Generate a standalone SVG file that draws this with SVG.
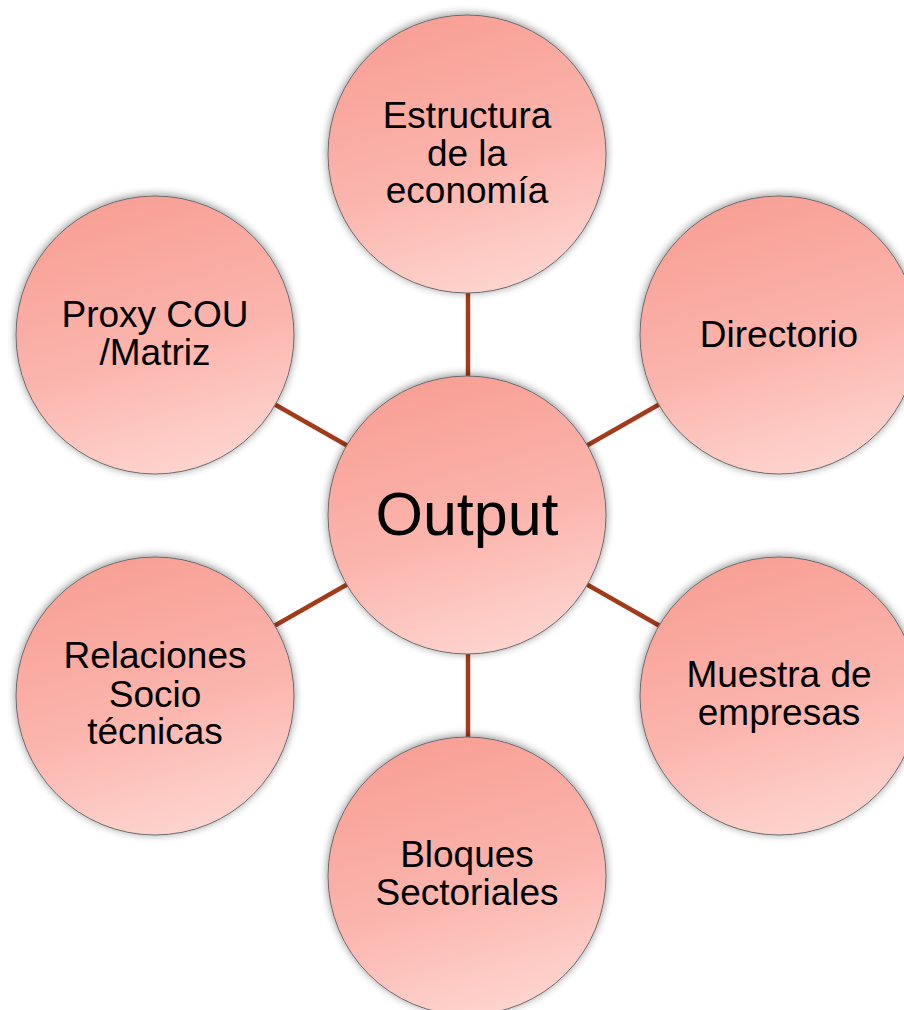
<svg xmlns="http://www.w3.org/2000/svg" width="904" height="1010" viewBox="0 0 904 1010">
  <defs>
    <linearGradient id="fill" x1="0.35" y1="0" x2="0.65" y2="1">
      <stop offset="0" stop-color="#f89f95"/>
      <stop offset="0.55" stop-color="#fbb5ad"/>
      <stop offset="1" stop-color="#fed5d0"/>
    </linearGradient>
    <filter id="shadow" x="-20%" y="-20%" width="140%" height="140%">
      <feGaussianBlur in="SourceAlpha" stdDeviation="4"/>
      <feOffset dx="0" dy="-1" result="b"/>
      <feComponentTransfer><feFuncA type="linear" slope="0.45"/></feComponentTransfer>
      <feMerge><feMergeNode/><feMergeNode in="SourceGraphic"/></feMerge>
    </filter>
  </defs>
  <style>
    .node circle { fill: url(#fill); stroke: #6b6b6b; stroke-width: 1; filter: url(#shadow); }
    .node text { font-family: "Liberation Sans", Arial, sans-serif; font-size: 37px; fill: #000; text-anchor: middle; }
    .conn line { stroke: #a33b1b; stroke-width: 4.5; }
  </style>
  <rect width="904" height="1010" fill="#ffffff"/>
  <g id="connectors" class="conn">
    <line x1="468" y1="293" x2="468" y2="377"/>
    <line x1="468" y1="653" x2="468" y2="737"/>
    <line x1="587" y1="445.5" x2="659" y2="404.5"/>
    <line x1="587" y1="584.5" x2="659" y2="625.5"/>
    <line x1="347" y1="445.5" x2="275" y2="404.5"/>
    <line x1="347" y1="584.5" x2="275" y2="625.5"/>
  </g>
  <g id="node-estructura" class="node">
    <circle cx="467" cy="154" r="139"/>
    <text x="467" y="128">Estructura</text>
    <text x="467" y="166">de la</text>
    <text x="467" y="203">economía</text>
  </g>
  <g id="node-directorio" class="node">
    <circle cx="779" cy="335" r="139"/>
    <text x="779" y="347">Directorio</text>
  </g>
  <g id="node-muestra" class="node">
    <circle cx="779" cy="696" r="139"/>
    <text x="779" y="687">Muestra de</text>
    <text x="779" y="725">empresas</text>
  </g>
  <g id="node-bloques" class="node">
    <circle cx="467" cy="876" r="139"/>
    <text x="467" y="867">Bloques</text>
    <text x="467" y="905">Sectoriales</text>
  </g>
  <g id="node-relaciones" class="node">
    <circle cx="155" cy="696" r="139"/>
    <text x="155" y="668">Relaciones</text>
    <text x="155" y="707">Socio</text>
    <text x="155" y="744">técnicas</text>
  </g>
  <g id="node-proxy" class="node">
    <circle cx="155" cy="335" r="139"/>
    <text x="155" y="327">Proxy COU</text>
    <text x="155" y="365">/Matriz</text>
  </g>
  <g id="node-output" class="node">
    <circle cx="467" cy="515" r="139"/>
    <text x="467" y="535" style="font-size:61px">Output</text>
  </g>
</svg>
